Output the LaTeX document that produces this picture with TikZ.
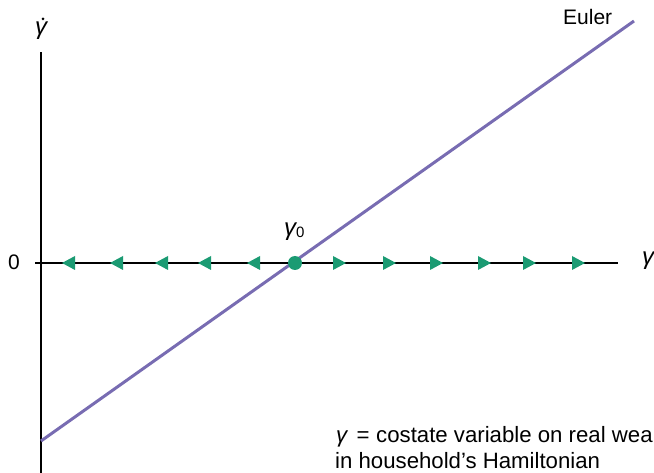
\documentclass[tikz,border=0pt]{standalone}
\usepackage{fontspec}
\setmainfont{Liberation Sans}
\definecolor{eulerpurple}{RGB}{120,108,178}
\definecolor{flowgreen}{RGB}{27,155,115}
\newcommand{\gam}{{\fontsize{24}{24}\selectfont\itshape γ}}
\tikzset{
  axis/.style={draw=black,line width=1.3pt},
  eulerline/.style={draw=eulerpurple,line width=3pt},
  flowtip/.style={fill=flowgreen,draw=none},
  lbl/.style={font=\fontsize{21}{25}\selectfont,inner sep=0pt},
  note/.style={font=\fontsize{22.2}{26}\selectfont,inner sep=0pt},
}
\begin{document}
\begin{tikzpicture}[x=1pt,y=-1pt]
\useasboundingbox (0,0) rectangle (654,473);
% axes
\coordinate (ytop) at (41,52);
\coordinate (ybot) at (41,473);
\coordinate (xl) at (35,263);
\coordinate (xr) at (618,263);
\draw[axis] (ybot) -- (ytop);
\draw[axis] (xl) -- (xr);
% Euler line
\coordinate (e1) at (41,441);
\coordinate (e2) at (634,21);
\draw[eulerline] (e1) -- (e2);
% flow arrows
\foreach \t in {62,110,155,198,247}
  \fill[flowtip] (\t,263) -- ++(13,-7) -- ++(0,14) -- cycle;
\foreach \b in {333,383,430,478,523,572}
  \fill[flowtip] (\b,256) -- ++(13,7) -- ++(-13,7) -- cycle;
% steady state
\node[circle,fill=flowgreen,minimum size=14pt,inner sep=0pt] (ss) at (295,263) {};
% labels
\node[lbl,anchor=base west] (g0) at (284,236) {\gam\raisebox{-2pt}{\fontsize{15}{15}\selectfont 0}};
\node[lbl,anchor=base west] (euler) at (563,25) {Euler};
\node[lbl,anchor=center] (zero) at (14,262) {0};
\node[lbl,anchor=base] (gx) at (648,265) {\gam};
\node[lbl,anchor=base] (gy) at (41,35) {\gam};
\fill (43,19) circle (1.5pt);
\node[note,anchor=base west] (note1) at (336,442) {\itshape γ\upshape\hspace{0.42em}=\hspace{0.3em}costate variable on real wea};
\node[note,anchor=base west] (note2) at (335,468) {in household’s Hamiltonian};
\end{tikzpicture}
\end{document}
